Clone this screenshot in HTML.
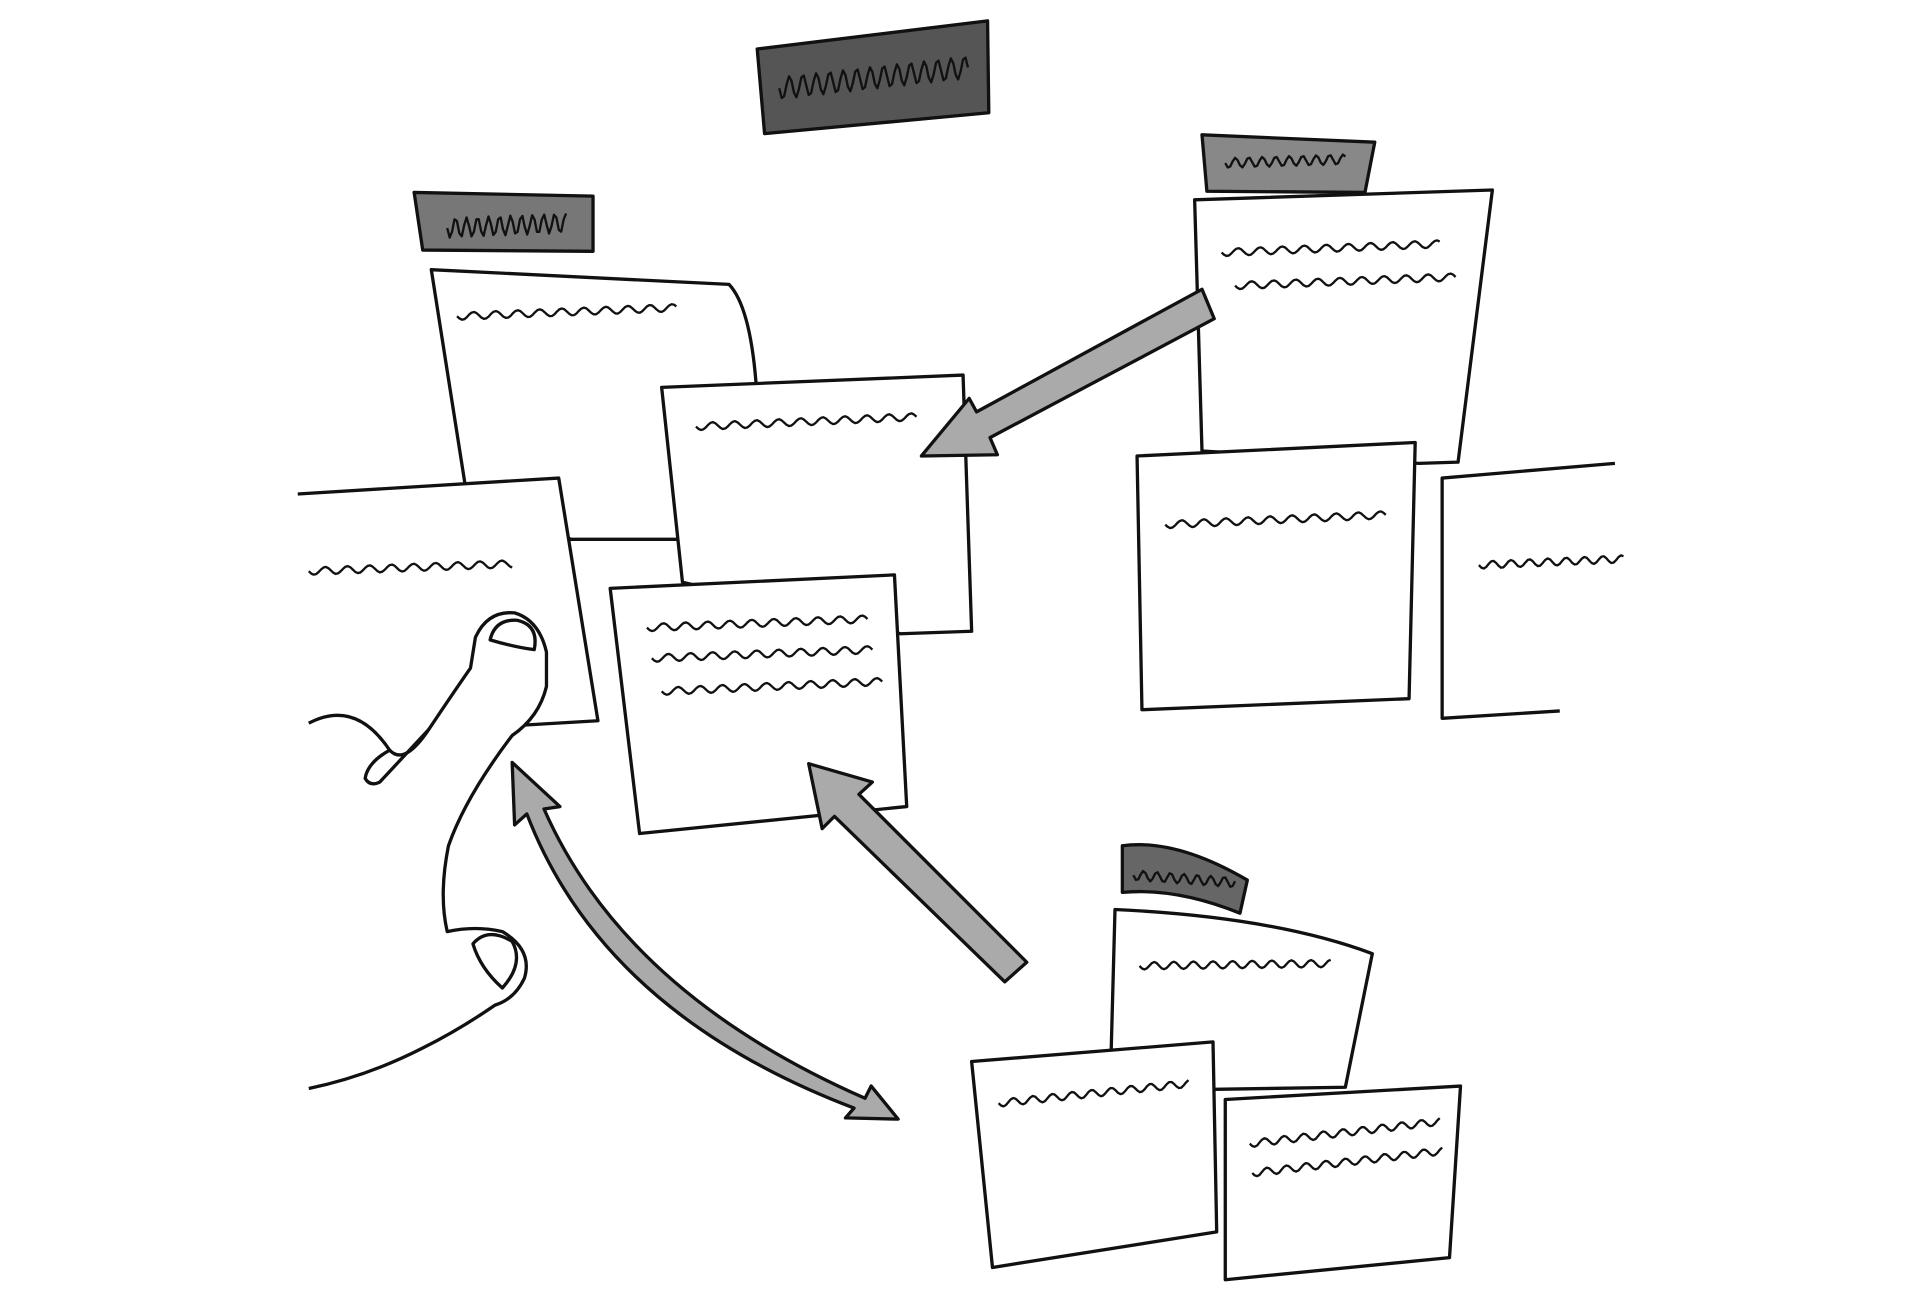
<!DOCTYPE html>
<html><head><meta charset="utf-8"><style>html,body{margin:0;padding:0;background:#fff;width:1920px;height:1303px;overflow:hidden}svg{display:block}</style></head>
<body>
<svg id="s" width="1920" height="1303" viewBox="0 0 1567 1063" preserveAspectRatio="none" xmlns="http://www.w3.org/2000/svg">
<g stroke="#111" stroke-width="2.7" fill="#fff" stroke-linejoin="round">
<polygon points="618,40 806,17 807,92 624,109" fill="#555"/>
<polygon points="338,157 484,160 484,205 345,204" fill="#777"/>
<path d="M380,398 L352,220 L595,232 Q612,250 617,312 L560,440 L466,440 L380,398 Z"/>
<path d="M540,316 L786,306 L793,515 L735,517 L557,475 Z"/>
<path d="M243,403 L456,390 L488,588 L420,592 L243,592 Z" stroke="none"/>
<path d="M243,403 L456,390 L488,588 L420,592" fill="none"/>
<path d="M498,480 L730,469 L740,658 L522,680 Z"/>
<polygon points="981,110 1122,116 1114,157 985,156" fill="#888"/>
<path d="M981,368 L975,163 L1218,155 L1190,377 L1158,378 Z"/>
<path d="M928,372 L1155,361 L1150,570 L932,579 Z"/>
<path d="M1318,378 L1177,390 L1177,586 L1273,580" />
<path d="M916,690 Q960,684 1018,718 L1012,745 Q960,724 916,728 Z" fill="#666"/>
<path d="M910,742 Q1040,748 1120,778 L1098,887 L906,890 Z"/>
<path d="M793,866 L990,850 L993,1005 L810,1034 Z"/>
<path d="M1000,897 L1192,886 L1183,1026 L1000,1044 Z"/>
<path d="M981,236 L991,260 L808,357 L814,371 L752,372 L791,325 L797,336 Z" fill="#aaa"/>
<path d="M838,785 L820,801 L681,666 L671,676 L660,623 L712,638 L701,648 Z" fill="#aaa"/>
<path d="M418,622 L457,658 L444,660 Q510,810 706,896 L711,886 L733,913 L690,912 L697,904 Q492,826 430,664 L420,673 Z" fill="#aaa"/>
<path d="M252,590 Q290,570 318,612 Q330,625 350,595 Q370,565 384,545 L388,520 Q398,498 420,500 Q440,506 446,532 L446,560 Q440,585 418,600 Q380,650 366,690 Q358,730 365,760 Q388,755 410,760 Q435,775 428,798 Q420,815 404,820 Q375,840 345,855 Q300,878 252,888" fill="#fff"/>
<path d="M318,612 Q300,622 298,635 Q302,642 310,638 L350,595" fill="none"/>
<path d="M400,522 Q404,505 422,506 Q440,510 436,530 Q420,528 400,522 Z" fill="#fff"/>
<path d="M386,770 Q398,756 418,768 Q428,786 410,806 Q392,790 386,770 Z" fill="#fff"/>
<g id="sq" fill="none" stroke-width="1.9"></g>
</g>
</svg>
<script>
var sq=document.getElementById('sq');
function wave(x1,y1,x2,y2,amp,per){var d='',n=Math.round((x2-x1)/2);for(var i=0;i<=n;i++){var t=i/n,x=x1+(x2-x1)*t,y=y1+(y2-y1)*t+amp*Math.sin((x-x1)/per*2*Math.PI);d+=(i?'L':'M')+x.toFixed(1)+','+y.toFixed(1);}var p=document.createElementNS('http://www.w3.org/2000/svg','path');p.setAttribute('d',d);sq.appendChild(p);}
wave(636,72,790,55,9,11);
wave(365,186,462,182,8,9);
wave(1000,133,1098,130,4,11);
wave(925,714,1008,720,4,11);
wave(373,258,552,251,3,18);
wave(568,348,748,340,3,18);
wave(252,466,418,460,3,18);
wave(528,512,708,505,3,18);
wave(532,537,712,530,3,18);
wave(540,564,720,556,3,18);
wave(997,206,1175,199,3,18);
wave(1008,233,1188,226,3,18);
wave(951,428,1131,420,3,18);
wave(1207,461,1325,456,3,15);
wave(930,788,1086,786,3,16);
wave(815,900,970,884,3,16);
wave(1020,933,1175,915,3,16);
wave(1022,957,1177,939,3,16);
</script>
</body></html>
